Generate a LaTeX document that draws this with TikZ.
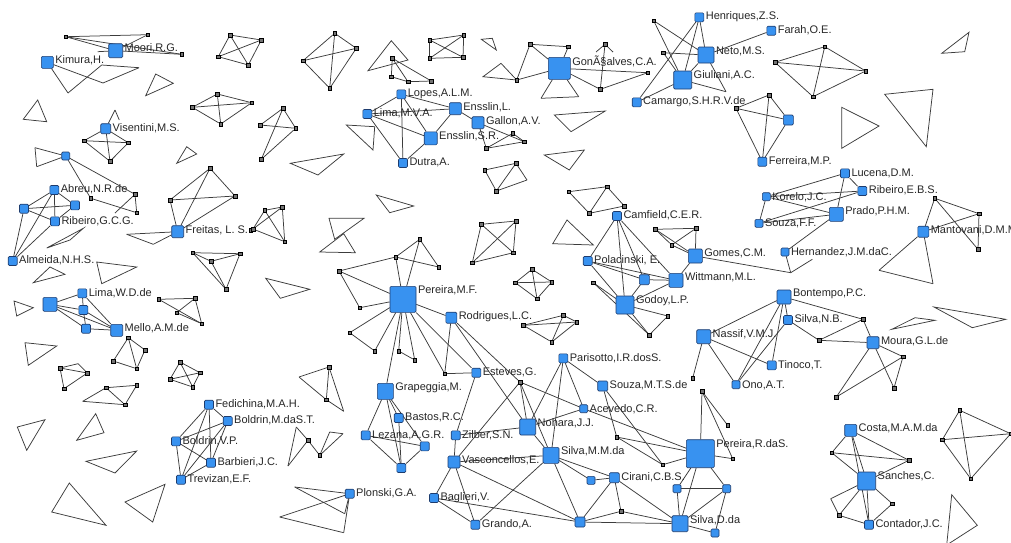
\documentclass[tikz,border=0pt]{standalone}
\usepackage{fontspec}
\setmainfont{Liberation Sans}
\pgfdeclarelayer{bg}\pgfsetlayers{bg,main}
\definecolor{nb}{RGB}{56,146,240}
\definecolor{nbd}{RGB}{30,60,110}
\definecolor{ed}{RGB}{60,60,60}
\tikzset{
 e/.style={draw=ed, line width=0.75pt},
 bn/.style={draw=nbd, fill=nb, rounded corners=1.2pt, minimum size=#1, inner sep=0pt, line width=0.6pt},
 sn/.style={draw=black, fill=black!55, minimum size=3.5pt, inner sep=0pt, line width=0.4pt},
 lbl/.style={anchor=west, inner sep=0pt, text=black!85, xshift=1.5pt, yshift=-4.5pt, font=\fontsize{11}{13}\selectfont},
}
\newcommand\tri[3]{\draw[e] #1 -- #2 -- #3 -- cycle;}
\begin{document}
\begin{tikzpicture}[x=1pt,y=-1pt]
\useasboundingbox (0,0) rectangle (1011,542);
% ---------- blue nodes ----------
\node[bn=14,label={[lbl]north east:Moori,R.G.}] (moori) at (115.7,50.7) {};
\node[bn=12,label={[lbl]north east:Kimura,H.}] (kimura) at (47.3,62.3) {};
\node[bn=10,label={[lbl]north east:Visentini,M.S.}] (vis) at (105.7,128.7) {};
\node[bn=8] (bw) at (65.7,156) {};
\node[bn=9,label={[lbl]north east:Lopes,A.L.M.}] (lopes) at (401.3,94.3) {};
\node[bn=9,label={[lbl]north east:Lima,M.V.A.}] (limamva) at (367.3,114) {};
\node[bn=12,label={[lbl]north east:Ensslin,L.}] (ensl) at (455.3,108.7) {};
\node[bn=12,label={[lbl]north east:Gallon,A.V.}] (gallon) at (478,122.7) {};
\node[bn=13,label={[lbl]north east:Ensslin,S.R.}] (enssr) at (430.7,138.3) {};
\node[bn=9,label={[lbl]north east:Dutra,A.}] (dutra) at (403,163) {};
\node[bn=22,label={[lbl]north east:GonÃ§alves,C.A.}] (gon) at (559.3,68.3) {};
\node[bn=9,label={[lbl]north east:Henriques,Z.S.}] (henr) at (699.3,17.3) {};
\node[bn=16,label={[lbl]north east:Neto,M.S.}] (neto) at (706,55) {};
\node[bn=18,label={[lbl]north east:Giuliani,A.C.}] (giul) at (682.7,80) {};
\node[bn=9,label={[lbl]north east:Camargo,S.H.R.V.de}] (camargo) at (636.7,102.3) {};
\node[bn=9,label={[lbl]north east:Farah,O.E.}] (farah) at (771.3,30.7) {};
\node[bn=10] (f3) at (788.3,120) {};
\node[bn=9,label={[lbl]north east:Ferreira,M.P.}] (ferreira) at (762.3,161.7) {};
\node[bn=9,label={[lbl]north east:Lucena,D.M.}] (lucena) at (845,173.3) {};
\node[bn=8,label={[lbl]north east:Korelo,J.C.}] (korelo) at (766.3,196.7) {};
\node[bn=9,label={[lbl]north east:Ribeiro,E.B.S.}] (ribebs) at (862.3,191) {};
\node[bn=14,label={[lbl]north east:Prado,P.H.M.}] (prado) at (836.3,214.3) {};
\node[bn=8,label={[lbl]north east:Souza,F.F.}] (souzaff) at (759,223.3) {};
\node[bn=8,label={[lbl]north east:Hernandez,J.M.daC.}] (hern) at (785,252) {};
\node[bn=11,label={[lbl]north east:Mantovani,D.M.M}] (mant) at (923.3,231.7) {};
\node[bn=9,label={[lbl]north east:Abreu,N.R.de}] (abreu) at (54.3,190) {};
\node[bn=9] (ab1) at (24,208.7) {};
\node[bn=9] (ab2) at (75,205.3) {};
\node[bn=9,label={[lbl]north east:Ribeiro,G.C.G.}] (ribgcg) at (55,221.3) {};
\node[bn=9,label={[lbl]north east:Almeida,N.H.S.}] (almeida) at (12.7,261) {};
\node[bn=12,label={[lbl]north east:Freitas, L. S.}] (freitas) at (177.7,231.7) {};
\node[bn=14] (wbig) at (50,304.3) {};
\node[bn=9,label={[lbl]north east:Lima,W.D.de}] (limawd) at (82.3,293.3) {};
\node[bn=9] (w2) at (83.3,310) {};
\node[bn=9] (w3) at (86,328.7) {};
\node[bn=12,label={[lbl]north east:Mello,A.M.de}] (mello) at (116.7,330.3) {};
\node[bn=26,label={[lbl]north east:Pereira,M.F.}] (pmf) at (403,299.3) {};
\node[bn=11,label={[lbl]north east:Rodrigues,L.C.}] (rodr) at (451.3,317.7) {};
\node[bn=9,label={[lbl]north east:Camfield,C.E.R.}] (camf) at (617,216) {};
\node[bn=9,label={[lbl]north east:Polacinski, E.}] (polac) at (587.7,261) {};
\node[bn=10] (pol2) at (644.3,279.7) {};
\node[bn=14,label={[lbl]north east:Gomes,C.M.}] (gomes) at (695.3,256) {};
\node[bn=14,label={[lbl]north east:Wittmann,M.L.}] (witt) at (676,280.3) {};
\node[bn=18,label={[lbl]north east:Godoy,L.P.}] (godoy) at (625,305) {};
\node[bn=14,label={[lbl]north east:Bontempo,P.C.}] (bont) at (784,297) {};
\node[bn=9,label={[lbl]north east:Silva,N.B.}] (silvanb) at (788,320) {};
\node[bn=14,label={[lbl]north east:Nassif,V.M.J.}] (nassif) at (703.7,336.7) {};
\node[bn=9,label={[lbl]north east:Tinoco,T.}] (tinoco) at (771.7,365.3) {};
\node[bn=8,label={[lbl]north east:Ono,A.T.}] (ono) at (736,384.7) {};
\node[bn=12,label={[lbl]north east:Moura,G.L.de}] (moura) at (873,342.7) {};
\node[bn=9,label={[lbl]north east:Parisotto,I.R.dosS.}] (paris) at (563.3,358.3) {};
\node[bn=16,label={[lbl]north east:Grapeggia,M.}] (grap) at (385.3,391.3) {};
\node[bn=9,label={[lbl]north east:Esteves,G.}] (este) at (476.3,372.7) {};
\node[bn=10,label={[lbl]north east:Souza,M.T.S.de}] (souzamts) at (602.7,386) {};
\node[bn=8,label={[lbl]north east:Acevedo,C.R.}] (acev) at (583.7,408.7) {};
\node[bn=16,label={[lbl]north east:Nohara,J.J.}] (nohara) at (527.7,427) {};
\node[bn=16,label={[lbl]north east:Silva,M.M.da}] (silvamm) at (551,455.3) {};
\node[bn=10,label={[lbl]north east:Cirani,C.B.S.}] (cirani) at (614.3,477.7) {};
\node[bn=8] (c1) at (591,480.3) {};
\node[bn=10] (c2) at (580,522) {};
\node[bn=16,label={[lbl]north east:Silva,D.da}] (silvad) at (680,523.7) {};
\node[bn=8] (d1) at (715,533) {};
\node[bn=28,label={[lbl]north east:Pereira,R.daS.}] (prds) at (700.3,453.7) {};
\node[bn=8] (r1) at (677,488.7) {};
\node[bn=8] (r2) at (726.7,488.7) {};
\node[bn=9,label={[lbl]north east:Fedichina,M.A.H.}] (fed) at (209,404.7) {};
\node[bn=9,label={[lbl]north east:Boldrin,M.daS.T.}] (bolm) at (227.7,421) {};
\node[bn=9,label={[lbl]north east:Boldrin,V.P.}] (bolv) at (176,441.3) {};
\node[bn=9,label={[lbl]north east:Barbieri,J.C.}] (barb) at (211,462.7) {};
\node[bn=9,label={[lbl]north east:Trevizan,E.F.}] (trev) at (181,479.7) {};
\node[bn=9,label={[lbl]north east:Bastos,R.C.}] (bastos) at (398.7,418) {};
\node[bn=9,label={[lbl]north east:Lezana,A.G.R.}] (lezana) at (365.7,435.3) {};
\node[bn=9] (l1) at (424.7,446.3) {};
\node[bn=9] (l2) at (401.3,468) {};
\node[bn=9,label={[lbl]north east:Plonski,G.A.}] (plonski) at (349.7,493.7) {};
\node[bn=9,label={[lbl]north east:Zilber,S.N.}] (zilber) at (455.7,435.3) {};
\node[bn=12,label={[lbl]north east:Vasconcellos,E.}] (vasc) at (454,462) {};
\node[bn=9,label={[lbl]north east:Baglieri,V.}] (bagl) at (434,498) {};
\node[bn=9,label={[lbl]north east:Grando,A.}] (grando) at (475.3,524.7) {};
\node[bn=12,label={[lbl]north east:Costa,M.A.M.da}] (costa) at (850.7,430.3) {};
\node[bn=18,label={[lbl]north east:Sanches,C.}] (sanches) at (866.7,481) {};
\node[bn=9,label={[lbl]north east:Contador,J.C.}] (contador) at (869,524.7) {};
% ---------- small nodes ----------
\foreach \n/\x/\y in {
 m1/65.7/36.7, m2/147.7/34.7, m3/181.7/54.3,
 v3/84/140.7, v4/128.3/142.7, v5/110/161.3,
 x1/90.7/198.3, x2/135/194.3, x3/136.7/212.7,
 ka1/230/35, ka2/218.3/56.7, ka3/248.3/65, ka4/261.3/40,
 kb1/192.3/107.3, kb2/217.3/94, kb3/251.7/102.7, kb4/220.7/124,
 kc1/334.7/33.3, kc2/303/60.7, kc3/329.7/88.3, kc4/356.3/48.3,
 kd1/429.7/40, kd2/463.7/35, kd3/463/57.3, kd4/429.7/58.3,
 fa1/392.3/58.3, fa2/391.3/76.7, fa3/408/81.7, fa4/431.3/81,
 ke1/283/108.3, ke2/260.3/125, ke3/295.7/128.3, ke4/261.3/159.3,
 g1/486.3/148.3, g2/512.7/133.3, g3/524.3/141.7, ga/484.7/170, gb/516/163.3, gc/496.3/191,
 gn1/530/44.3, gn2/568.3/46.7, gn3/605/44.3, gn4/516.7/80, gn5/647.7/72.7, gn6/600.3/89.3,
 hn1/653.7/20.7, hn2/663.3/52.7,
 f1/736/108.3, f2/769/95,
 kf1/775/62.3, kf2/824.7/46.7, kf3/865.7/71, kf4/813/96.7,
 fr1/170/200, fr2/235/196, fr3/210/168.3, frx/250.7/230,
 kg1/192.7/252.7, kg2/240/253.7, kg3/211/261.3, kg4/226/289.3,
 kh1/158.7/299.3, kh2/195/298.3, kh3/176.7/312.7, kh4/201.7/323.7,
 ki1/128.3/337.7, ki2/145/350, ki3/113.3/361, ki4/136.7/368.7,
 kj1/60/368, kj2/87.3/373, kj3/64/388.7,
 kk1/180/362, kk2/200/372.7, kk3/170/379.3, kk4/192.7/387,
 kl1/106/387.7, kl2/136.7/385.3, kl3/125/404.7,
 km1/253/229, km2/264.7/210.3, km3/282.3/207, km4/284.7/241.7,
 p1/419.7/239.3, p2/395.7/257, p3/438.7/267, p4/339/271, p5/359.7/307.7,
 p6/349.7/332.7, p7/374.7/351, p8/398.7/351, p9/414.7/360,
 kn1/481.3/224.3, kn2/472.3/262.7, kn3/516/221, kn4/513.3/252.7,
 ko1/532/269.3, ko2/515.3/282.7, ko3/551.7/282, ko4/537/298.7,
 kp1/523.3/325.3, kp2/563.3/315.3, kp3/576.7/322, kp4/551.7/342,
 kq1/568.7/191.7, kq2/607/186.7, kq3/624.3/206, kq4/589.3/213.3,
 cw1/655.3/229.3, cw2/696/228.3, cw3/671.7/245, cw4/593.3/282.7, cw5/667.7/316, cw6/649.3/335,
 mn1/934.7/198.3, mn2/979/213.7, mn3/978/249.3,
 mo1/863/319.3, mo2/819/340.3, mo3/903/356.7, mo4/836.3/397, mo5/894/388,
 n1/692.7/378,
 e2/520/382,
 s1/616.7/437, s2/662.7/464.7, s3/621/511.3, s4/702/391.3, s5/727.7/425.3, s6/732.7/458.7,
 cs1/831.7/452.7, cs2/909/460.3, cs3/839/515.3, cs5/892.3/503.7,
 kr1/959.7/410.3, kr2/942.3/439.7, kr3/1010.7/433.7, kr4/970.7/478.7,
 z1/329/367, z2/326.3/399.7, z3/308/440.3, z4/319.7/455.3,
 l3/444.7/373.7}
 \node[sn] (\n) at (\x,\y) {};
% ---------- coordinates (line ends without marks) ----------
\foreach \n/\x/\y in {
 m4/97.7/51.7, ka/68/93, kb/101.7/65, kc/103/83, kd/139/67.7,
 va/115/110, vb/119.3/120, bwa/35/147.7, bwb/36.7/166.7, x4/115/213,
 gn7/541/98.3, gn8/578.7/96.7, gnl/596/52, gnr/613/52, gd/527/180,
 hn3/726/91.7, fr4/126.7/234.3, fr5/153.3/244.3,
 kj4/78/363.7, kl4/82.7/401.3,
 h1/790.7/272.7, h2/812.3/259.3, mn4/879/270.3, mn5/933/283.7,
 cs4/830.7/498.7, z0/299/377, z5/343.7/411.3,
 y1/288/466, y2/296.3/427, y3/329.7/432, y4/343/433.7,
 q1/294.7/487, q2/279.7/517, q3/343.7/532.7, q4/344.7/513.7}
 \coordinate (\n) at (\x,\y);
% ---------- edges ----------
\begin{pgfonlayer}{bg}
\foreach \a/\b in {
 m1/m2, m1/moori, m1/m3, m2/moori, moori/m3, m4/moori,
 kimura/ka, ka/kb, kimura/kc, kc/kd, kd/kb,
 vis/va, va/vb, vis/v3, vis/v4, vis/v5, v3/v4, v3/v5, v4/v5,
 bw/bwa, bw/bwb, bwa/bwb, bw/x1, bw/x2, x1/x3, x2/x3, x2/x4,
 ka1/ka2, ka1/ka3, ka1/ka4, ka2/ka3, ka2/ka4, ka3/ka4,
 kb1/kb2, kb1/kb3, kb1/kb4, kb2/kb3, kb2/kb4, kb3/kb4,
 kc1/kc2, kc1/kc3, kc1/kc4, kc2/kc3, kc2/kc4, kc3/kc4,
 kd1/kd2, kd1/kd3, kd1/kd4, kd2/kd3, kd2/kd4, kd3/kd4,
 ke1/ke2, ke1/ke3, ke1/ke4, ke2/ke3, ke3/ke4,
 fa1/fa2, fa1/fa3, fa1/fa4, fa2/fa3, fa3/fa4,
 lopes/ensl, lopes/dutra, lopes/enssr, lopes/limamva, limamva/ensl, limamva/enssr, limamva/dutra,
 ensl/enssr, ensl/gallon, enssr/dutra,
 gallon/g1, gallon/g3, g1/g2, g1/g3, g2/g3, ga/gb, ga/gc, gb/gc, gb/gd, gc/gd,
 gon/gn1, gon/gn2, gn1/gn2, gn1/gn4, gon/gn4, gon/gn7, gon/gn8, gn7/gn8, gon/gn5, gn5/gn6, gon/gn6, gn3/gn6, gn3/gnl, gn3/gnr,
 hn1/giul, hn1/neto, henr/giul, henr/neto, henr/camargo, hn2/neto, hn2/giul, camargo/giul, giul/neto, giul/hn3, neto/farah, neto/hn3,
 f1/f2, f1/f3, f1/ferreira, f2/f3, f2/ferreira, f3/ferreira,
 kf1/kf2, kf1/kf3, kf1/kf4, kf2/kf3, kf2/kf4, kf3/kf4,
 abreu/ab1, abreu/ab2, abreu/ribgcg, ab1/ab2, ab1/ribgcg, ab2/ribgcg, almeida/ab1, almeida/abreu, almeida/ribgcg,
 fr3/fr1, fr3/freitas, fr3/fr2, fr1/fr2, fr1/freitas, fr2/freitas, freitas/fr4, fr4/fr5, fr5/freitas,
 kg1/kg2, kg1/kg3, kg1/kg4, kg2/kg3, kg2/kg4, kg3/kg4,
 wbig/limawd, wbig/w2, wbig/w3, wbig/mello, limawd/w2, w2/w3, limawd/mello, w2/mello, w3/mello,
 kh1/kh2, kh1/kh4, kh2/kh3, kh2/kh4, kh3/kh4,
 ki1/ki2, ki1/ki3, ki1/ki4, ki2/ki4, ki3/ki4,
 kj1/kj2, kj1/kj3, kj2/kj3, kj1/kj4, kj4/kj2,
 kk1/kk2, kk1/kk3, kk1/kk4, kk2/kk3, kk2/kk4, kk3/kk4,
 kl4/kl1, kl1/kl2, kl2/kl3, kl4/kl3, kl1/kl3,
 fed/bolm, fed/bolv, fed/barb, fed/trev, bolm/bolv, bolm/barb, bolm/trev, bolv/barb, bolv/trev, barb/trev,
 km1/km2, km1/km3, km1/km4, km2/km3, km2/km4, km3/km4,
 pmf/p1, pmf/p2, p1/p2, p1/p3, p2/p3, p4/p2, p4/pmf, p4/p5, p5/pmf,
 pmf/p6, p6/p7, pmf/p7, pmf/p8, p8/p9, pmf/p9, pmf/rodr, pmf/grap, pmf/l3, pmf/este,
 z1/z0, z0/z2, z1/z2, z1/z5, z2/z5,
 y1/y2, y2/z3, z3/z4, z4/y3, y3/y4, y4/z4, y1/z3,
 grap/lezana, grap/bastos, grap/l2, grap/l1, lezana/l2, l1/l2, bastos/l2, lezana/l1,
 plonski/q1, q1/q4, plonski/q2, q2/q3, plonski/q3, plonski/q4,
 kn1/kn2, kn1/kn3, kn1/kn4, kn2/kn3, kn2/kn4, kn3/kn4,
 ko1/ko2, ko1/ko3, ko1/ko4, ko2/ko3, ko2/ko4, ko3/ko4,
 kp1/kp2, kp1/kp3, kp1/kp4, kp2/kp3, kp2/kp4, kp3/kp4,
 kq1/kq2, kq1/kq4, kq4/kq3, kq2/kq3, kq2/kq4,
 camf/polac, camf/godoy, camf/pol2, camf/witt, polac/godoy, polac/pol2, polac/witt, pol2/witt, pol2/godoy,
 godoy/cw4, godoy/cw5, godoy/cw6, cw5/cw6, cw4/cw6, godoy/witt, witt/gomes,
 cw1/cw2, cw1/cw3, cw3/cw2, cw1/gomes, cw2/gomes, cw3/gomes, gomes/h1,
 lucena/korelo, lucena/prado, lucena/ribebs, korelo/ribebs, korelo/prado, souzaff/ribebs, souzaff/prado, korelo/souzaff, hern/prado, hern/h1, h1/h2,
 mant/mn1, mn1/mn2, mn1/mn3, mn2/mn3, mant/mn2, mant/mn4, mant/mn5, mn4/mn5,
 bont/silvanb, bont/mo1, mo1/mo2, mo1/moura, mo2/moura, silvanb/mo2, moura/mo3, moura/mo4, moura/mo5, mo4/mo3, mo3/mo5,
 bont/tinoco, bont/ono, bont/nassif, silvanb/ono, nassif/tinoco, nassif/ono, nassif/n1,
 rodr/l3, rodr/e2, rodr/nohara, l3/este,
 e2/nohara, e2/silvamm, e2/acev, paris/nohara, paris/silvamm, paris/acev, paris/souzamts, acev/nohara, nohara/silvamm,
 zilber/nohara, zilber/este, zilber/vasc, vasc/e2, vasc/silvamm, vasc/c2, vasc/bagl, vasc/grando, bagl/grando, bagl/c2, grando/silvamm,
 silvamm/c1, silvamm/cirani, c1/cirani, silvamm/c2, cirani/c2, cirani/s3, cirani/silvad, c2/s3, s3/silvad, c2/silvad,
 souzamts/s1, souzamts/s2, s1/s2, s1/prds, acev/prds, s2/prds,
 prds/s4, s4/s5, s4/s6, s6/prds, prds/r1, prds/r2, prds/silvad, r1/r2, r1/silvad, r2/silvad, r2/d1, silvad/d1,
 costa/cs1, costa/cs2, cs1/cs2, costa/sanches, costa/contador, cs1/sanches, cs2/sanches, sanches/cs4, sanches/cs3, cs4/cs3, sanches/contador, cs3/contador, sanches/cs5, cs5/contador,
 kr1/kr2, kr1/kr3, kr1/kr4, kr2/kr3, kr2/kr4, kr3/kr4}
 \draw[e] (\a) -- (\b);
% free triangles
\tri{(145.7,95.7)}{(155.7,74)}{(173.3,83.3)}
\tri{(23.3,119.3)}{(37.7,100)}{(46.7,121.7)}
\tri{(176.7,163.3)}{(186.7,146.7)}{(196.7,154)}
\tri{(481.3,39.3)}{(492.3,38.3)}{(496.3,50)}
\tri{(368,70.7)}{(391.3,40.7)}{(408,60)}
\tri{(483,76.7)}{(501,63.3)}{(516.7,80)}
\tri{(346.3,125)}{(374.7,126.7)}{(373,150)}
\tri{(290.3,163.3)}{(343.7,154)}{(318,175)}
\tri{(554.3,115)}{(605.3,111)}{(571,131.7)}
\tri{(544.3,155)}{(584.3,150)}{(569.3,170)}
\tri{(941.7,53.3)}{(969,32.3)}{(964.7,51.7)}
\tri{(841.7,107.3)}{(879,126)}{(841.7,148.3)}
\tri{(884.7,94.3)}{(933,89.3)}{(926.3,146.7)}
\tri{(46.7,248)}{(83.3,228.3)}{(70,240)}
\tri{(33.3,282.7)}{(65,274.3)}{(50,267)}
\tri{(96.7,262)}{(136.7,267)}{(101.7,283.7)}
\tri{(14,301)}{(33.3,307.7)}{(16.7,316)}
\tri{(25,342.7)}{(56.7,346)}{(28.3,365.3)}
\tri{(17.3,427)}{(45,419.7)}{(26.7,450.3)}
\tri{(76.7,440.3)}{(95.7,413.7)}{(104,432.7)}
\tri{(86,461.3)}{(136.7,451)}{(115,473)}
\tri{(51.7,512)}{(69.3,483)}{(106,525.3)}
\tri{(125,502)}{(165,484.3)}{(152.7,522)}
\tri{(376.3,195)}{(413.7,206)}{(389.7,212.7)}
\tri{(329,218.3)}{(364,218.3)}{(334.7,239.3)}
\tri{(319.7,252)}{(355.3,252.7)}{(343.7,233.7)}
\tri{(265.7,278.3)}{(309.7,289.3)}{(280.3,298.3)}
\tri{(552.7,243.7)}{(567,220)}{(593.3,245)}
\tri{(891.7,329.3)}{(915,317.7)}{(935,320.3)}
\tri{(934,307)}{(1005.7,319.3)}{(972.3,327.7)}
\tri{(951.7,494.7)}{(977.3,525.3)}{(946.7,545)}
\end{pgfonlayer}
\end{tikzpicture}
\end{document}
